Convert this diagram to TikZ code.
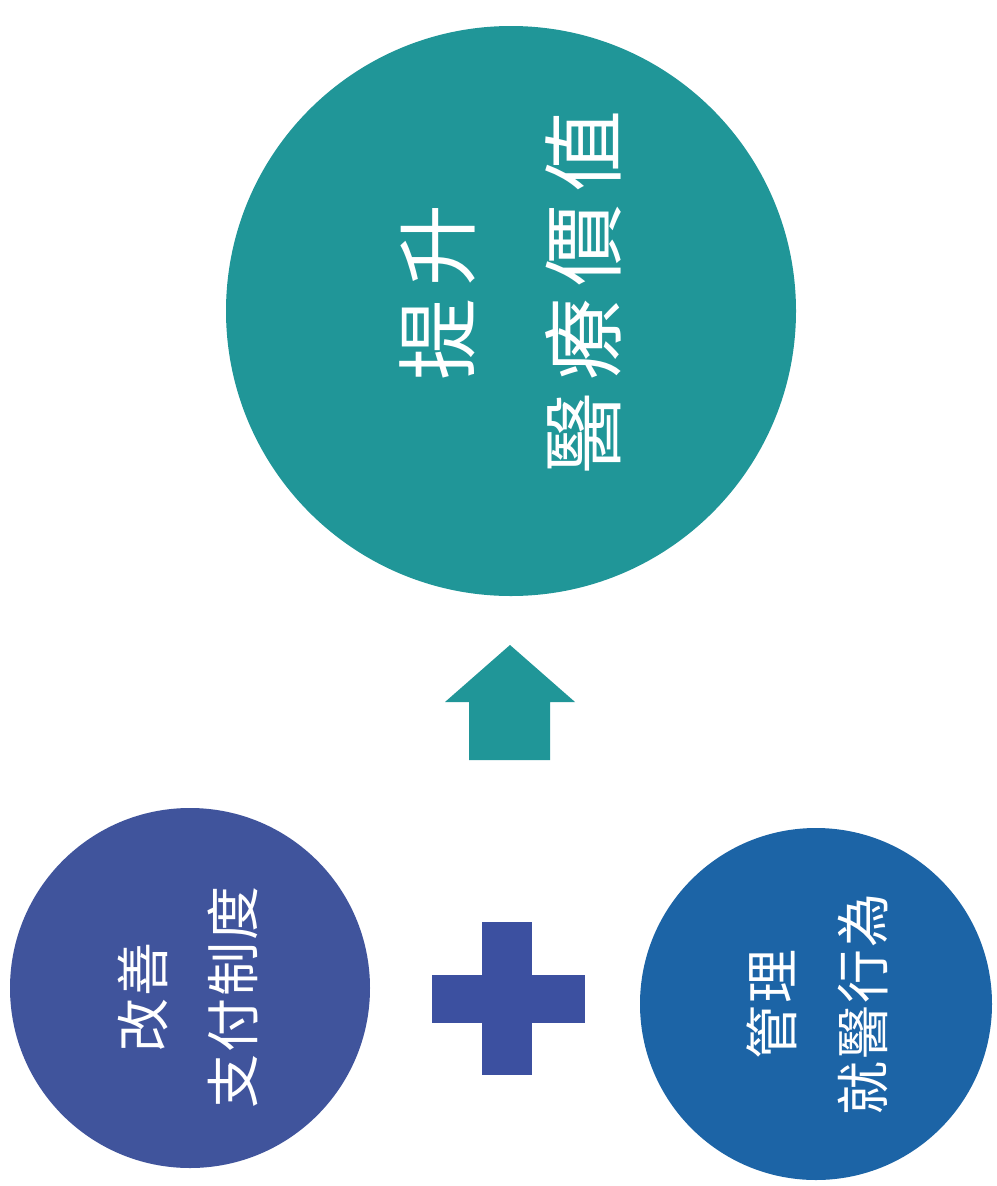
\documentclass[tikz,border=0pt]{standalone}
\usepackage{fontspec}
\newfontfamily\cjk{Noto Sans CJK TC}
\definecolor{tealc}{RGB}{32,150,152}
\definecolor{navyc}{RGB}{64,84,156}
\definecolor{bluec}{RGB}{28,100,166}
\definecolor{plusc}{RGB}{60,80,160}
\newcommand{\cg}{\kern12pt}
\tikzset{
  circ/.style={circle,inner sep=0pt,draw=none},
  lbl/.style={text=white,rotate=90,align=center,inner sep=0pt}
}
\begin{document}
\begin{tikzpicture}[x=1pt,y=-1pt]
\useasboundingbox (0,0) rectangle (996,1186);
\fill[white] (0,0) rectangle (996,1186);
% circles
\node[circ,fill=tealc,minimum size=570pt] (top) at (511,311) {};
\node[circ,fill=navyc,minimum size=360pt] (left) at (190,988) {};
\node[circ,fill=bluec,minimum size=352pt] (right) at (816,1004) {};
% labels
\node[lbl,font=\cjk\fontsize{82}{146}\selectfont] (ttop) at (510,292) {提\cg 升\\醫\cg 療\cg 價\cg 值};
\node[lbl,font=\cjk\fontsize{54}{90}\selectfont] (tleft) at (188,997) {改\kern2pt 善\\支\kern2pt 付\kern2pt 制\kern2pt 度};
\node[lbl,font=\cjk\fontsize{54}{91}\selectfont] (tright) at (817,1004) {管\kern2pt 理\\就\kern2pt 醫\kern2pt 行\kern2pt 為};
% up arrow
\fill[tealc] (510,645) -- (575,702) -- (550,702) -- (550,760) -- (469,760) -- (469,702) -- (445,702) -- cycle;
% plus
\fill[plusc] (482,922) rectangle (532,1075);
\fill[plusc] (432,975) rectangle (585,1023);
\end{tikzpicture}
\end{document}
